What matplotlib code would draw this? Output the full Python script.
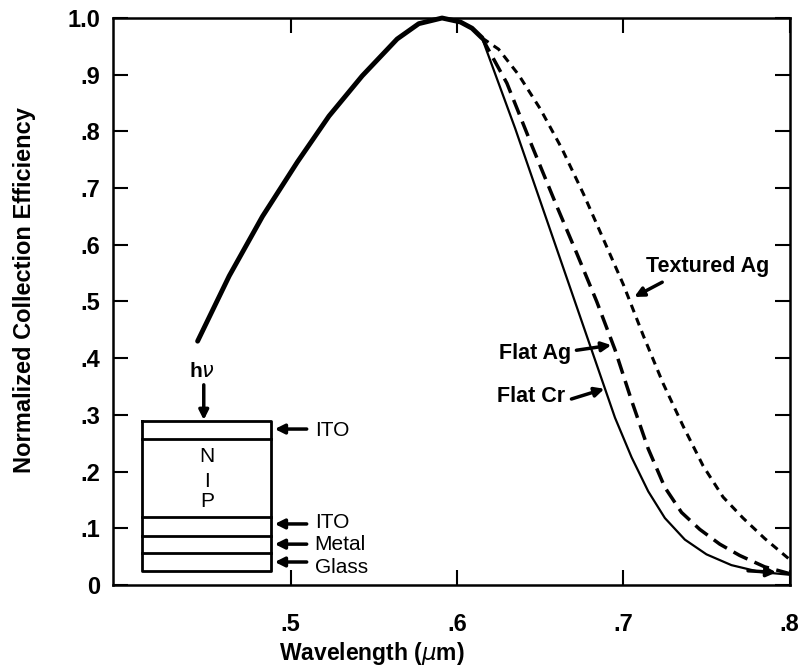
#Normalized collection efficiency vs wavelength for NIP cells with different back reflectors
import numpy as np
import matplotlib.pyplot as plt

plt.rcParams['font.family'] = ['Liberation Sans', 'DejaVu Sans']

#common part of the curve (all three cells agree up to ~0.615 um)
wl_common = [0.444, 0.463, 0.483, 0.504, 0.523, 0.543, 0.564, 0.577, 0.591, 0.602, 0.609, 0.615]
eff_common = [0.430, 0.545, 0.650, 0.746, 0.827, 0.898, 0.963, 0.990, 1.000, 0.993, 0.982, 0.965]

#Flat Cr back contact
wl_cr = [0.615, 0.625, 0.635, 0.645, 0.655, 0.665, 0.675, 0.685, 0.695, 0.705, 0.715, 0.725, 0.737, 0.750, 0.765, 0.782, 0.800]
eff_cr = [0.965, 0.885, 0.805, 0.720, 0.635, 0.550, 0.465, 0.380, 0.295, 0.225, 0.165, 0.118, 0.080, 0.054, 0.035, 0.023, 0.018]

#Flat Ag back contact
wl_ag = [0.615, 0.630, 0.645, 0.660, 0.672, 0.684, 0.695, 0.705, 0.715, 0.725, 0.735, 0.746, 0.758, 0.770, 0.785, 0.800]
eff_ag = [0.965, 0.885, 0.775, 0.668, 0.585, 0.500, 0.415, 0.325, 0.240, 0.172, 0.128, 0.098, 0.072, 0.052, 0.032, 0.020]

#Textured Ag back contact
wl_tex = [0.615, 0.625, 0.637, 0.650, 0.663, 0.676, 0.688, 0.700, 0.712, 0.724, 0.736, 0.748, 0.760, 0.772, 0.785, 0.800]
eff_tex = [0.965, 0.945, 0.900, 0.840, 0.770, 0.690, 0.610, 0.530, 0.440, 0.355, 0.280, 0.210, 0.155, 0.118, 0.082, 0.045]

xticks = [0.5, 0.6, 0.7, 0.8]
xtick_labels = ['.5', '.6', '.7', '.8']
yticks = [0, 0.1, 0.2, 0.3, 0.4, 0.5, 0.6, 0.7, 0.8, 0.9, 1.0]
ytick_labels = ['0', '.1', '.2', '.3', '.4', '.5', '.6', '.7', '.8', '.9', '1.0']

fig = plt.figure(figsize=(8, 6.67), dpi=100)
ax = fig.add_axes([0.141, 0.123, 0.846, 0.850])

ax.plot(wl_common, eff_common, color='black', linewidth=3.5, solid_capstyle='round', clip_on=False)
ax.plot(wl_cr, eff_cr, color='black', linewidth=1.6)
ax.plot(wl_ag, eff_ag, color='black', linewidth=2.5, linestyle=(0, (4.5, 2.2)))
ax.plot(wl_tex, eff_tex, color='black', linewidth=2.2, linestyle=(0, (2.6, 2.0)))

ax.set_xlim(0.393, 0.8)
ax.set_ylim(0, 1.0)
ax.set_xticks(xticks)
ax.set_xticklabels(xtick_labels)
ax.set_yticks(yticks)
ax.set_yticklabels(ytick_labels)
for lab in ax.get_xticklabels() + ax.get_yticklabels():
    lab.set_fontweight('bold')
    lab.set_fontsize(17)

ax.tick_params(axis='both', direction='in', width=1.5, top=True, right=True)
ax.tick_params(axis='y', which='major', length=11, pad=9)
ax.tick_params(axis='x', which='major', length=11, pad=20)
for s in ax.spines.values():
    s.set_linewidth(1.8)

ax.set_xlabel('Wavelength ($\\mu$m)', fontsize=16.5, fontweight='bold')
ax.xaxis.set_label_coords(0.383, -0.097)
ax.set_ylabel('Normalized Collection Efficiency', fontsize=17, fontweight='bold')
ax.yaxis.set_label_coords(-0.114, 0.52)

#curve labels with arrows
arrow = dict(arrowstyle='-|>', color='black', lw=2.5, mutation_scale=14, shrinkA=0, shrinkB=0)
ax.text(0.7138, 0.561, 'Textured Ag', fontsize=15.5, fontweight='bold', va='center')
ax.annotate('', xy=(0.7066, 0.508), xytext=(0.7234, 0.534), arrowprops=arrow)
ax.text(0.6255, 0.409, 'Flat Ag', fontsize=15.5, fontweight='bold', va='center')
ax.annotate('', xy=(0.6928, 0.423), xytext=(0.6718, 0.414), arrowprops=arrow)
ax.text(0.6243, 0.332, 'Flat Cr', fontsize=15.5, fontweight='bold', va='center')
ax.annotate('', xy=(0.6886, 0.346), xytext=(0.6688, 0.328), arrowprops=arrow)
ax.annotate('', xy=(0.792, 0.022), xytext=(0.775, 0.025), arrowprops=arrow)

#device cross-section sketch
box_left, box_right = 0.4105, 0.488
layer_lines = [0.289, 0.2575, 0.12, 0.086, 0.056, 0.025]
ax.plot([box_left, box_right, box_right, box_left, box_left],
        [layer_lines[0], layer_lines[0], layer_lines[-1], layer_lines[-1], layer_lines[0]],
        color='black', linewidth=2)
for yl in layer_lines[1:-1]:
    ax.plot([box_left, box_right], [yl, yl], color='black', linewidth=2)

ax.text(0.4495, 0.226, 'N', fontsize=15, ha='center', va='center')
ax.text(0.4495, 0.183, 'I', fontsize=15, ha='center', va='center')
ax.text(0.4495, 0.147, 'P', fontsize=15, ha='center', va='center')
ax.text(0.4465, 0.376, 'h$\\nu$', fontsize=15, fontweight='bold', ha='center', va='center')
ax.annotate('', xy=(0.4477, 0.291), xytext=(0.4477, 0.353), arrowprops=arrow)

layer_names = ['ITO', 'ITO', 'Metal', 'Glass']
arrow_y = [0.275, 0.1076, 0.072, 0.0405]
text_y = [0.273, 0.111, 0.0705, 0.030]
for name, ya, yt in zip(layer_names, arrow_y, text_y):
    ax.annotate('', xy=(0.4904, ya), xytext=(0.5096, ya), arrowprops=arrow)
    ax.text(0.5144, yt, name, fontsize=15, va='center')

plt.savefig('out.png', dpi=100)
